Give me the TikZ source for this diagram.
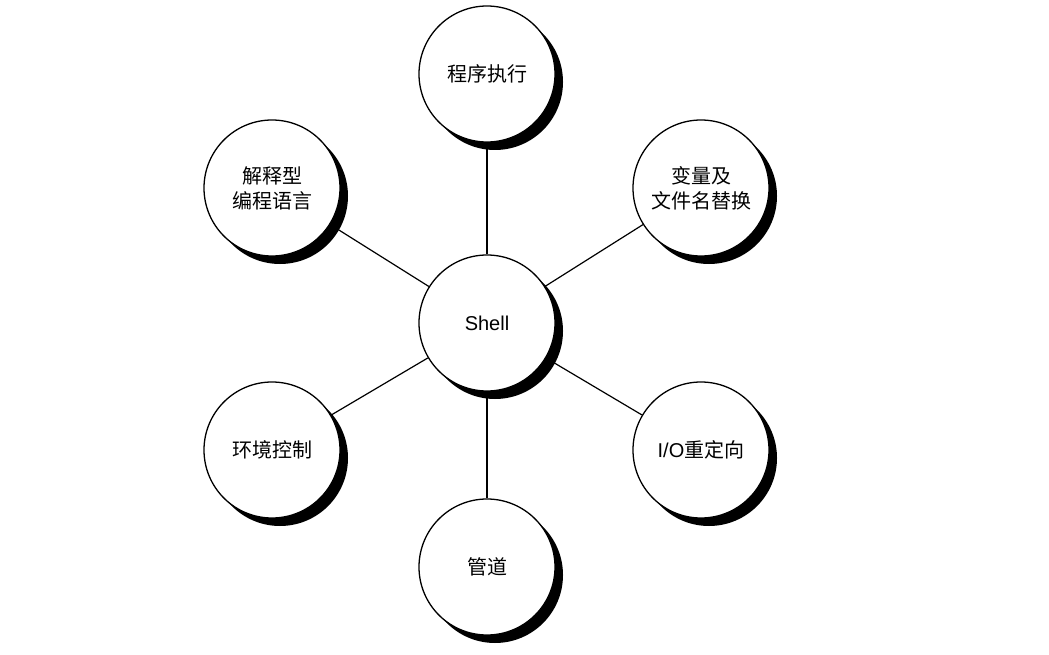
\documentclass[tikz,border=0pt]{standalone}
\usepackage{fontspec}
\setmainfont{Liberation Sans}
\newfontfamily\cjk{Noto Sans CJK SC}
\usetikzlibrary{backgrounds,shadows}
\begin{document}
\begin{tikzpicture}[x=1pt,y=-1pt,
  bub/.style={circle, draw=black, line width=1.3pt, fill=white,
    minimum size=136pt, inner sep=0pt, align=center,
    font=\fontsize{20pt}{25pt}\selectfont,
    drop shadow={shadow xshift=8pt, shadow yshift=-8pt, opacity=1, fill=black}},
  link/.style={draw=black, line width=1.2pt}]
\useasboundingbox (0,0) rectangle (1049,655);
\node[bub] (shell) at (487,323) {Shell};
\node[bub] (exec) at (487,74) {\cjk 程序执行};
\node[bub] (interp) at (272,188) {\cjk 解释型\\\cjk 编程语言};
\node[bub] (var) at (701,188) {\cjk 变量及\\\cjk 文件名替换};
\node[bub] (env) at (272,450) {\cjk 环境控制};
\node[bub] (io) at (701,450) {I/O{\cjk 重定向}};
\node[bub] (pipe) at (487,567) {\cjk 管道};
\begin{scope}[on background layer]
\draw[link] (shell) -- (exec);
\draw[link] (shell) -- (interp);
\draw[link] (shell) -- (var);
\draw[link] (shell) -- (env);
\draw[link] (shell) -- (io);
\draw[link] (shell) -- (pipe);
\end{scope}
\end{tikzpicture}
\end{document}
